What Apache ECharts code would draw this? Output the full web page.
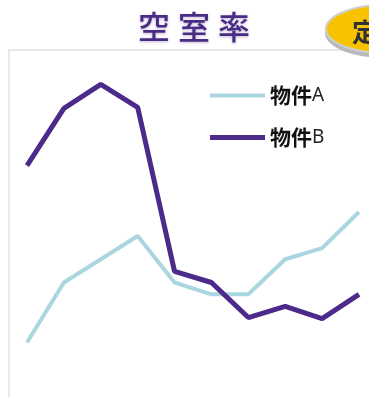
<!DOCTYPE html>
<html><head><meta charset="utf-8">
<script src="https://cdn.jsdelivr.net/npm/echarts@6/dist/echarts.min.js"></script>
<style>html,body{margin:0;padding:0;background:#fff}#c{width:369px;height:397px}</style>
</head><body><div id="c"></div>
<script>
const categories = ['1','2','3','4','5','6','7','8','9','10'];
const seriesAName = '物件A';
const seriesBName = '物件B';
const seriesA = [1.57, 3.3, 3.97, 4.64, 3.3, 2.96, 2.96, 3.97, 4.29, 5.33];
const seriesB = [6.67, 8.32, 9.01, 8.35, 3.62, 3.3, 2.29, 2.61, 2.26, 2.96];
const titleText = '空室率';
const badgeText = '定';

const legendText = {
  formatter: n => '{b|' + n.slice(0, n.length-1) + '}{n|' + n.slice(-1) + '}',
  textStyle:{rich:{
    b:{fontFamily:'Noto Sans CJK JP', fontSize:21, fontWeight:'bold', color:'#111'},
    n:{fontFamily:'Noto Sans', fontSize:19, color:'#222'}
  }}
};

const chart = echarts.init(document.getElementById('c'), null, {renderer:'canvas'});
chart.setOption({
  backgroundColor:'#fff',
  animation:false,
  title:{
    text: titleText.split('').map(ch => '{t|' + ch + '}').join(''),
    left: 189, top: 6, textAlign:'center',
    textStyle:{rich:{t:{fontFamily:'Noto Sans CJK JP', fontSize:32, fontWeight:500, color:'#4b2c84',
      padding:[0,4,0,4],
      textShadowColor:'rgba(75,44,132,0.35)', textShadowBlur:3, textShadowOffsetY:1}}}
  },
  graphic:[
    {type:'rect', z:0, shape:{x:9, y:50, width:400, height:400}, style:{fill:'none', stroke:'#e8e8e8', lineWidth:2}},
    {type:'ellipse', z:10, shape:{cx:385, cy:33, rx:60, ry:25}, style:{fill:'#b9b9b9'}},
    {type:'ellipse', z:11, shape:{cx:385, cy:29, rx:59, ry:24}, style:{fill:'#f7c300', stroke:'#cfcfcf', lineWidth:2}},
    {type:'text', z:12, left:352, top:19, style:{text:badgeText, fontFamily:'Noto Sans CJK JP', fontSize:26, fontWeight:'bold', fill:'#333'}}
  ],
  legend:[
    Object.assign({left:210, top:85, padding:0, itemWidth:55, itemHeight:4,
      data:[{name:seriesAName, icon:'rect'}]}, legendText),
    Object.assign({left:210, top:127, padding:0, itemWidth:55, itemHeight:5,
      data:[{name:seriesBName, icon:'rect'}]}, legendText)
  ],
  grid:{left:27, right:10, top:50, bottom:0, containLabel:false},
  xAxis:{type:'category', data:categories, boundaryGap:false, show:false},
  yAxis:{type:'value', min:0, max:10, show:false},
  series:[
    {name:seriesAName, type:'line', data:seriesA, symbol:'none', z:2,
      lineStyle:{color:'#aad7df', width:4}, itemStyle:{color:'#aad7df'}},
    {name:seriesBName, type:'line', data:seriesB, symbol:'none', z:3,
      lineStyle:{color:'#4b2a8a', width:5}, itemStyle:{color:'#4b2a8a'}}
  ]
});
</script></body></html>
